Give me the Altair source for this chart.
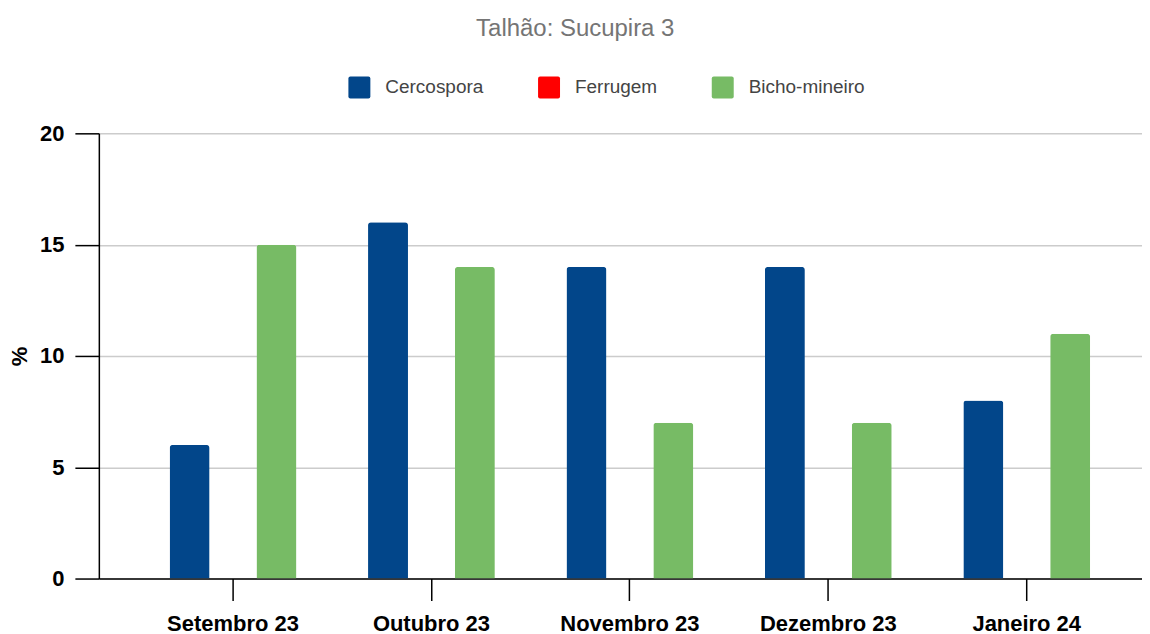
import altair as alt
import pandas as pd

months = ["Setembro 23", "Outubro 23", "Novembro 23", "Dezembro 23", "Janeiro 24"]
series = ["Cercospora", "Ferrugem", "Bicho-mineiro"]
colors = ["#02468a", "#ff0000", "#77bb65"]
cercospora = [6, 16, 14, 14, 8]
ferrugem = [0, 0, 0, 0, 0]
bicho_mineiro = [15, 14, 7, 7, 11]
y_ticks = [0, 5, 10, 15, 20]

rows = []
for i, m in enumerate(months):
    rows.append({"mes": m, "serie": "Cercospora", "valor": cercospora[i]})
    rows.append({"mes": m, "serie": "Ferrugem", "valor": ferrugem[i]})
    rows.append({"mes": m, "serie": "Bicho-mineiro", "valor": bicho_mineiro[i]})
df = pd.DataFrame(rows)

FONT = "Liberation Sans"
rounded_square = ("M-0.82,-1 L0.82,-1 Q1,-1 1,-0.82 L1,0.82 Q1,1 0.82,1 "
                  "L-0.82,1 Q-1,1 -1,0.82 L-1,-0.82 Q-1,-1 -0.82,-1 Z")

chart = alt.Chart(df).mark_bar(
    cornerRadiusTopLeft=3, cornerRadiusTopRight=3
).encode(
    x=alt.X("mes:N", sort=months, title=None,
            scale=alt.Scale(paddingInner=0.361, paddingOuter=0.309, align=0.577),
            axis=alt.Axis(labelAngle=0, labelFontSize=22, labelFontWeight="bold",
                          labelColor="#000000", labelFont=FONT, labelPadding=13,
                          tickSize=22, tickColor="#000000", tickWidth=1.5,
                          domainColor="#000000", domainWidth=1.5, grid=False,
                          labelLimit=300)),
    xOffset=alt.XOffset("serie:N", sort=series,
                        scale=alt.Scale(domain=series, paddingInner=0.08, paddingOuter=0)),
    y=alt.Y("valor:Q", title="%",
            scale=alt.Scale(domain=[0, 20], nice=False),
            axis=alt.Axis(values=y_ticks, labelFontSize=22, labelFontWeight="bold",
                          labelColor="#000000", labelFont=FONT, labelPadding=11,
                          tickSize=24, tickColor="#000000", tickWidth=1.5,
                          domainColor="#000000", domainWidth=1.5,
                          gridColor="#cccccc", gridWidth=1.5,
                          titleFontSize=22, titleFontWeight="bold", titleColor="#000000",
                          titleFont=FONT, titlePadding=8)),
    color=alt.Color("serie:N",
                    scale=alt.Scale(domain=series, range=colors),
                    legend=alt.Legend(title=None, orient="none", direction="horizontal",
                                      legendX=250, legendY=-57,
                                      symbolType=rounded_square, symbolSize=484,
                                      symbolStrokeWidth=0, symbolOpacity=1,
                                      labelFontSize=19, labelFont=FONT,
                                      labelColor="#444444", labelOffset=15,
                                      columnPadding=54, labelLimit=300)),
).properties(
    width=1045,
    height=446,
    title=alt.TitleParams("Talhão: Sucupira 3", fontSize=24, font=FONT,
                          fontWeight="normal", color="#757575", offset=36,
                          frame="bounds", anchor="middle"),
    padding={"left": 0, "top": 8, "right": 0, "bottom": 0},
).configure_view(strokeWidth=0)

chart.save("out.html", embed_options={"renderer": "svg", "actions": False})
